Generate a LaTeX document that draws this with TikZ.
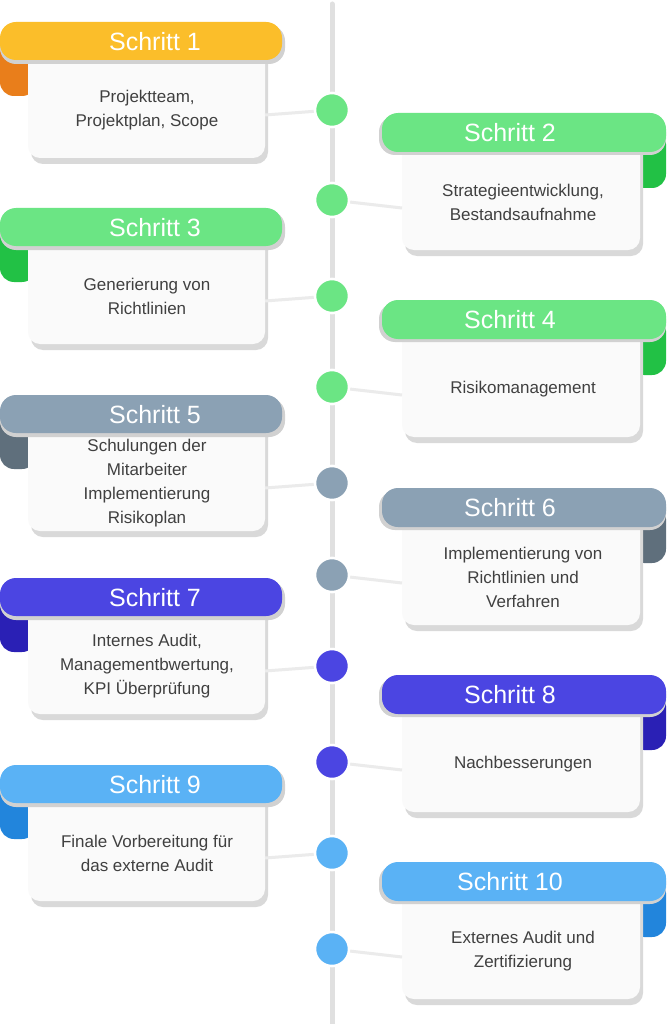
\documentclass[tikz,border=0pt]{standalone}
\usepackage{fontspec}
\setmainfont{Liberation Sans}
\begin{document}
\begin{tikzpicture}[x=1pt,y=-1pt,
  headtxt/.style={text=white,font=\fontsize{25}{28}\selectfont,inner sep=0},
  bodytxt/.style={text=black!75,font=\fontsize{17}{24}\selectfont,align=center,inner sep=0},
  dotst/.style={circle,minimum size=34,inner sep=0,draw=white,line width=2.5},
  conn/.style={draw=black!8,line width=3}]
\definecolor{cyel}{HTML}{FBBE2A}\definecolor{cyelf}{HTML}{E97E1B}
\definecolor{cgr}{HTML}{6BE584}\definecolor{cgrf}{HTML}{22C145}
\definecolor{cgy}{HTML}{8BA1B4}\definecolor{cgyf}{HTML}{5F6F7C}
\definecolor{cbl}{HTML}{4B45E2}\definecolor{cblf}{HTML}{2A20B5}
\definecolor{clb}{HTML}{5AB2F5}\definecolor{clbf}{HTML}{2285DC}
\useasboundingbox (0,0) rectangle (666,1024);
\fill[white] (0,0) rectangle (666,1024);
\draw[black!12,line width=5,line cap=round] (332,4) -- (332,1024);
% #1 n, #2 unused, #3 head, #4 fold, #5 dot, #6 text
\newcommand\stepL[6]{%
  \fill[#4,rounded corners=14] (0,40) rectangle (36,96);
  \fill[black!15,rounded corners=12] (31,48) rectangle (268,164);
  \fill[black!2,rounded corners=12] (28,45) rectangle (265,158);
  \fill[black!18,rounded corners=16] (0,25) rectangle (285,64);
  \fill[#3,rounded corners=16] (0,22) rectangle (282,60);
  \node[headtxt] (h#1) at (155,42) {Schritt #1};
  \node[bodytxt] (b#1) at (147,110) {#6};
  \coordinate (e#1) at (265,115);
  \node[dotst,fill=#5] (d#1) at (332,110) {};
  \path[conn] (e#1) -- (d#1);
  \node[dotst,fill=#5] at (d#1) {};
}
\newcommand\stepR[6]{%
  \fill[#4,rounded corners=14] (630,130) rectangle (666,188);
  \fill[black!15,rounded corners=12] (405,141) rectangle (643,256);
  \fill[black!2,rounded corners=12] (402,138) rectangle (640,250);
  \fill[black!18,rounded corners=16] (379,116) rectangle (666,155);
  \fill[#3,rounded corners=16] (382,113) rectangle (666,152);
  \node[headtxt] (h#1) at (510,133) {Schritt #1};
  \node[bodytxt] (b#1) at (523,202) {#6};
  \coordinate (e#1) at (402,208);
  \node[dotst,fill=#5] (d#1) at (332,200) {};
  \path[conn] (e#1) -- (d#1);
  \node[dotst,fill=#5] at (d#1) {};
}
\begin{scope}[yshift=0]\stepL{1}{0}{cyel}{cyelf}{cgr}{Projektteam,\\Projektplan, Scope}\end{scope}
\begin{scope}[yshift=-0]\stepR{2}{0}{cgr}{cgrf}{cgr}{Strategieentwicklung,\\Bestandsaufnahme}\end{scope}
\begin{scope}[yshift=-186]\stepL{3}{0}{cgr}{cgrf}{cgr}{Generierung von\\Richtlinien}\end{scope}
\begin{scope}[yshift=-187]\stepR{4}{0}{cgr}{cgrf}{cgr}{Risikomanagement}\end{scope}
\begin{scope}[yshift=-373]\stepL{5}{0}{cgy}{cgyf}{cgy}{Schulungen der\\Mitarbeiter\\Implementierung\\Risikoplan}\end{scope}
\begin{scope}[yshift=-375]\stepR{6}{0}{cgy}{cgyf}{cgy}{Implementierung von\\Richtlinien und\\Verfahren}\end{scope}
\begin{scope}[yshift=-556]\stepL{7}{0}{cbl}{cblf}{cbl}{Internes Audit,\\Managementbwertung,\\KPI Überprüfung}\end{scope}
\begin{scope}[yshift=-562]\stepR{8}{0}{cbl}{cblf}{cbl}{Nachbesserungen}\end{scope}
\begin{scope}[yshift=-743]\stepL{9}{0}{clb}{clbf}{clb}{Finale Vorbereitung für\\das externe Audit}\end{scope}
\begin{scope}[yshift=-749]\stepR{10}{0}{clb}{clbf}{clb}{Externes Audit und\\Zertifizierung}\end{scope}
\end{tikzpicture}
\end{document}
